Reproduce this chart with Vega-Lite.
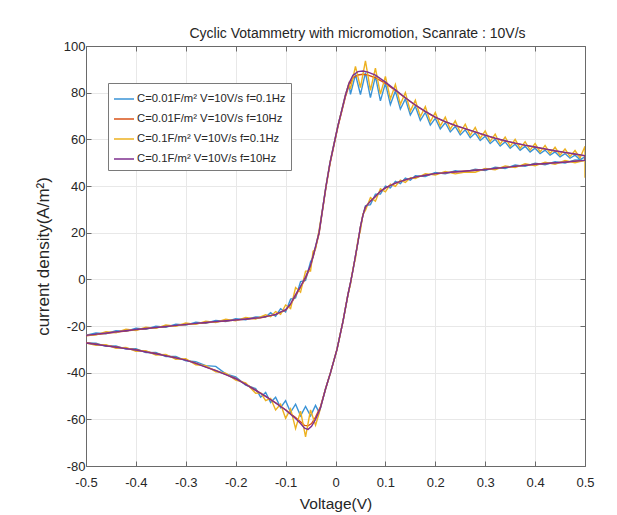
{
"$schema": "https://vega.github.io/schema/vega-lite/v6.json",
"width": 499, "height": 420,
"autosize": "none",
"padding": {"left": 86, "top": 46, "right": 32, "bottom": 49},
"background": "white",
"title": {"text": "Cyclic Votammetry with micromotion, Scanrate : 10V/s", "font": "Liberation Sans", "fontSize": 14, "fontWeight": "normal", "color": "#262626", "offset": -1, "dx": 22, "anchor": "middle"},
"data": {"values": [
{"s":"a","v":-0.5,"i":-24.0},{"s":"a","v":-0.48,"i":-23.0},{"s":"a","v":-0.46,"i":-23.3},{"s":"a","v":-0.44,"i":-22.0},{"s":"a","v":-0.42,"i":-22.3},{"s":"a","v":-0.40,"i":-21.0},{"s":"a","v":-0.38,"i":-21.4},{"s":"a","v":-0.36,"i":-20.1},{"s":"a","v":-0.34,"i":-20.5},{"s":"a","v":-0.32,"i":-19.2},{"s":"a","v":-0.30,"i":-19.6},{"s":"a","v":-0.28,"i":-18.4},{"s":"a","v":-0.26,"i":-18.8},{"s":"a","v":-0.24,"i":-17.6},{"s":"a","v":-0.22,"i":-18.1},{"s":"a","v":-0.20,"i":-16.9},{"s":"a","v":-0.18,"i":-17.3},{"s":"a","v":-0.16,"i":-16.1},{"s":"a","v":-0.14,"i":-16.2},{"s":"a","v":-0.13,"i":-14.3},{"s":"a","v":-0.12,"i":-15.8},{"s":"a","v":-0.11,"i":-12.6},{"s":"a","v":-0.10,"i":-14.0},{"s":"a","v":-0.09,"i":-8.5},{"s":"a","v":-0.08,"i":-8.0},{"s":"a","v":-0.07,"i":-1.0},{"s":"a","v":-0.06,"i":-0.5},{"s":"a","v":-0.05,"i":7.5},{"s":"a","v":-0.045,"i":9.5},{"s":"a","v":-0.04,"i":14},{"s":"a","v":-0.033,"i":20},{"s":"a","v":-0.026,"i":30},{"s":"a","v":-0.019,"i":40},{"s":"a","v":-0.011,"i":50},{"s":"a","v":-0.003,"i":58},{"s":"a","v":0.005,"i":66},{"s":"a","v":0.012,"i":72},{"s":"a","v":0.02,"i":79},{"s":"a","v":0.027,"i":84},
{"s":"a","v":0.03,"i":79.3},{"s":"a","v":0.04,"i":87.8},{"s":"a","v":0.05,"i":79.2},{"s":"a","v":0.06,"i":88.6},{"s":"a","v":0.07,"i":77.9},{"s":"a","v":0.08,"i":87.0},{"s":"a","v":0.09,"i":76.5},{"s":"a","v":0.10,"i":84.0},{"s":"a","v":0.11,"i":74.9},{"s":"a","v":0.12,"i":80.7},{"s":"a","v":0.13,"i":73.0},{"s":"a","v":0.14,"i":77.3},{"s":"a","v":0.15,"i":70.4},{"s":"a","v":0.16,"i":74.2},{"s":"a","v":0.17,"i":68.1},{"s":"a","v":0.18,"i":71.5},{"s":"a","v":0.19,"i":66.1},{"s":"a","v":0.20,"i":69.0},{"s":"a","v":0.21,"i":64.5},{"s":"a","v":0.22,"i":67.1},{"s":"a","v":0.23,"i":63.2},{"s":"a","v":0.24,"i":65.5},{"s":"a","v":0.25,"i":61.9},{"s":"a","v":0.26,"i":64.1},{"s":"a","v":0.27,"i":60.7},{"s":"a","v":0.28,"i":62.7},{"s":"a","v":0.29,"i":59.5},{"s":"a","v":0.30,"i":61.3},{"s":"a","v":0.31,"i":58.2},{"s":"a","v":0.32,"i":60.0},{"s":"a","v":0.33,"i":57.1},{"s":"a","v":0.34,"i":58.9},{"s":"a","v":0.35,"i":56.2},{"s":"a","v":0.36,"i":57.9},{"s":"a","v":0.37,"i":55.3},{"s":"a","v":0.38,"i":57.0},{"s":"a","v":0.39,"i":54.6},{"s":"a","v":0.40,"i":56.2},{"s":"a","v":0.41,"i":53.9},{"s":"a","v":0.42,"i":55.4},{"s":"a","v":0.43,"i":53.2},{"s":"a","v":0.44,"i":54.6},{"s":"a","v":0.45,"i":52.5},{"s":"a","v":0.46,"i":53.9},{"s":"a","v":0.47,"i":51.9},{"s":"a","v":0.48,"i":53.2},{"s":"a","v":0.49,"i":51.3},{"s":"a","v":0.50,"i":52.5},
{"s":"a","v":0.50,"i":51.0},{"s":"a","v":0.48,"i":51.2},{"s":"a","v":0.46,"i":49.8},{"s":"a","v":0.44,"i":50.4},{"s":"a","v":0.42,"i":49.1},{"s":"a","v":0.40,"i":49.8},{"s":"a","v":0.38,"i":48.4},{"s":"a","v":0.36,"i":49.0},{"s":"a","v":0.34,"i":47.5},{"s":"a","v":0.32,"i":48.1},{"s":"a","v":0.30,"i":46.6},{"s":"a","v":0.28,"i":47.2},{"s":"a","v":0.26,"i":45.9},{"s":"a","v":0.24,"i":46.5},{"s":"a","v":0.22,"i":45.2},{"s":"a","v":0.20,"i":45.8},{"s":"a","v":0.18,"i":44.1},{"s":"a","v":0.16,"i":44.4},{"s":"a","v":0.15,"i":42.5},{"s":"a","v":0.14,"i":43.4},{"s":"a","v":0.13,"i":41.0},{"s":"a","v":0.12,"i":42.0},{"s":"a","v":0.11,"i":39.2},{"s":"a","v":0.10,"i":40.0},{"s":"a","v":0.09,"i":36.5},{"s":"a","v":0.08,"i":36.5},{"s":"a","v":0.07,"i":32.0},{"s":"a","v":0.06,"i":31.5},{"s":"a","v":0.055,"i":27.5},{"s":"a","v":0.05,"i":22.5},{"s":"a","v":0.045,"i":16},{"s":"a","v":0.04,"i":10},{"s":"a","v":0.035,"i":4},{"s":"a","v":0.03,"i":-1.5},{"s":"a","v":0.025,"i":-6.5},{"s":"a","v":0.015,"i":-18},{"s":"a","v":0.003,"i":-30},{"s":"a","v":-0.01,"i":-40},{"s":"a","v":-0.02,"i":-47},{"s":"a","v":-0.03,"i":-55},{"s":"a","v":-0.033,"i":-57},{"s":"a","v":-0.04,"i":-54},{"s":"a","v":-0.05,"i":-58.5},{"s":"a","v":-0.06,"i":-54.5},{"s":"a","v":-0.07,"i":-58.5},{"s":"a","v":-0.08,"i":-53.5},{"s":"a","v":-0.09,"i":-57},{"s":"a","v":-0.10,"i":-52},{"s":"a","v":-0.11,"i":-55},{"s":"a","v":-0.12,"i":-50.5},{"s":"a","v":-0.13,"i":-52.8},{"s":"a","v":-0.14,"i":-48.5},{"s":"a","v":-0.15,"i":-50.5},{"s":"a","v":-0.16,"i":-46.8},{"s":"a","v":-0.18,"i":-45.3},{"s":"a","v":-0.20,"i":-41.8},{"s":"a","v":-0.22,"i":-40.5},{"s":"a","v":-0.24,"i":-37.3},{"s":"a","v":-0.26,"i":-37.0},{"s":"a","v":-0.28,"i":-35.3},{"s":"a","v":-0.30,"i":-34.9},{"s":"a","v":-0.32,"i":-33.0},{"s":"a","v":-0.34,"i":-33.1},{"s":"a","v":-0.36,"i":-31.3},{"s":"a","v":-0.38,"i":-31.4},{"s":"a","v":-0.40,"i":-29.7},{"s":"a","v":-0.42,"i":-29.9},{"s":"a","v":-0.44,"i":-28.5},{"s":"a","v":-0.46,"i":-28.7},{"s":"a","v":-0.48,"i":-27.4},{"s":"a","v":-0.50,"i":-27.3},

{"s":"b","v":-0.5,"i":-24.2},{"s":"b","v":-0.45,"i":-22.9},{"s":"b","v":-0.4,"i":-21.6},{"s":"b","v":-0.35,"i":-20.5},{"s":"b","v":-0.3,"i":-19.4},{"s":"b","v":-0.25,"i":-18.4},{"s":"b","v":-0.2,"i":-17.5},{"s":"b","v":-0.15,"i":-16.5},{"s":"b","v":-0.12,"i":-15.1},{"s":"b","v":-0.1,"i":-13.2},{"s":"b","v":-0.09,"i":-10.8},{"s":"b","v":-0.08,"i":-7.0},{"s":"b","v":-0.07,"i":-3.5},{"s":"b","v":-0.06,"i":0.5},{"s":"b","v":-0.05,"i":5.5},{"s":"b","v":-0.045,"i":9.5},{"s":"b","v":-0.04,"i":13.5},{"s":"b","v":-0.033,"i":19.5},{"s":"b","v":-0.026,"i":29.5},{"s":"b","v":-0.019,"i":39.5},{"s":"b","v":-0.011,"i":49.5},{"s":"b","v":-0.003,"i":57.5},{"s":"b","v":0.005,"i":65.5},{"s":"b","v":0.012,"i":71.5},{"s":"b","v":0.02,"i":78.3},{"s":"b","v":0.027,"i":83.0},{"s":"b","v":0.035,"i":86.3},{"s":"b","v":0.045,"i":87.6},{"s":"b","v":0.055,"i":87.9},{"s":"b","v":0.065,"i":87.5},{"s":"b","v":0.08,"i":86.4},{"s":"b","v":0.1,"i":84.0},{"s":"b","v":0.12,"i":81.0},{"s":"b","v":0.14,"i":77.7},{"s":"b","v":0.16,"i":74.6},{"s":"b","v":0.18,"i":71.9},{"s":"b","v":0.2,"i":69.4},{"s":"b","v":0.22,"i":67.5},{"s":"b","v":0.24,"i":65.9},{"s":"b","v":0.26,"i":64.5},{"s":"b","v":0.28,"i":63.1},{"s":"b","v":0.3,"i":61.7},{"s":"b","v":0.32,"i":60.4},{"s":"b","v":0.34,"i":59.3},{"s":"b","v":0.36,"i":58.3},{"s":"b","v":0.38,"i":57.4},{"s":"b","v":0.4,"i":56.6},{"s":"b","v":0.42,"i":55.8},{"s":"b","v":0.44,"i":55.0},{"s":"b","v":0.46,"i":54.3},{"s":"b","v":0.48,"i":53.6},{"s":"b","v":0.5,"i":52.9},
{"s":"b","v":0.5,"i":51.0},{"s":"b","v":0.45,"i":50.1},{"s":"b","v":0.4,"i":49.3},{"s":"b","v":0.35,"i":48.2},{"s":"b","v":0.3,"i":47.1},{"s":"b","v":0.25,"i":46.2},{"s":"b","v":0.2,"i":45.3},{"s":"b","v":0.18,"i":44.6},{"s":"b","v":0.16,"i":43.8},{"s":"b","v":0.14,"i":42.6},{"s":"b","v":0.12,"i":41.2},{"s":"b","v":0.1,"i":39.2},{"s":"b","v":0.09,"i":37.7},{"s":"b","v":0.08,"i":35.5},{"s":"b","v":0.07,"i":33.5},{"s":"b","v":0.06,"i":31},{"s":"b","v":0.055,"i":27.5},{"s":"b","v":0.05,"i":22.5},{"s":"b","v":0.045,"i":16},{"s":"b","v":0.04,"i":10},{"s":"b","v":0.035,"i":4},{"s":"b","v":0.03,"i":-1.5},{"s":"b","v":0.025,"i":-6.5},{"s":"b","v":0.015,"i":-18},{"s":"b","v":0.003,"i":-30},{"s":"b","v":-0.01,"i":-40},{"s":"b","v":-0.02,"i":-47},{"s":"b","v":-0.03,"i":-54.5},{"s":"b","v":-0.04,"i":-59},{"s":"b","v":-0.048,"i":-61.8},{"s":"b","v":-0.055,"i":-62.8},{"s":"b","v":-0.062,"i":-62.6},{"s":"b","v":-0.07,"i":-61.0},{"s":"b","v":-0.08,"i":-59.2},{"s":"b","v":-0.09,"i":-57.6},{"s":"b","v":-0.1,"i":-55.9},{"s":"b","v":-0.11,"i":-54.4},{"s":"b","v":-0.12,"i":-52.9},{"s":"b","v":-0.14,"i":-50.1},{"s":"b","v":-0.16,"i":-47.5},{"s":"b","v":-0.18,"i":-44.9},{"s":"b","v":-0.2,"i":-42.5},{"s":"b","v":-0.22,"i":-40.7},{"s":"b","v":-0.24,"i":-39.0},{"s":"b","v":-0.26,"i":-37.5},{"s":"b","v":-0.28,"i":-35.9},{"s":"b","v":-0.3,"i":-34.5},{"s":"b","v":-0.35,"i":-32.2},{"s":"b","v":-0.4,"i":-30.2},{"s":"b","v":-0.45,"i":-28.7},{"s":"b","v":-0.5,"i":-27.2},

{"s":"c","v":-0.5,"i":-24.0},{"s":"c","v":-0.48,"i":-23.8},{"s":"c","v":-0.46,"i":-22.4},{"s":"c","v":-0.44,"i":-22.9},{"s":"c","v":-0.42,"i":-21.4},{"s":"c","v":-0.40,"i":-21.9},{"s":"c","v":-0.38,"i":-20.5},{"s":"c","v":-0.36,"i":-21.0},{"s":"c","v":-0.34,"i":-19.6},{"s":"c","v":-0.32,"i":-20.1},{"s":"c","v":-0.30,"i":-18.7},{"s":"c","v":-0.28,"i":-19.3},{"s":"c","v":-0.26,"i":-17.9},{"s":"c","v":-0.24,"i":-18.5},{"s":"c","v":-0.22,"i":-17.1},{"s":"c","v":-0.20,"i":-17.8},{"s":"c","v":-0.18,"i":-16.3},{"s":"c","v":-0.16,"i":-17.0},{"s":"c","v":-0.14,"i":-15.2},{"s":"c","v":-0.13,"i":-16.0},{"s":"c","v":-0.12,"i":-13.8},{"s":"c","v":-0.11,"i":-15.0},{"s":"c","v":-0.10,"i":-11.0},{"s":"c","v":-0.09,"i":-12.5},{"s":"c","v":-0.08,"i":-3.5},{"s":"c","v":-0.07,"i":-5.5},{"s":"c","v":-0.06,"i":3.5},{"s":"c","v":-0.05,"i":3.5},{"s":"c","v":-0.045,"i":12},{"s":"c","v":-0.04,"i":13},{"s":"c","v":-0.033,"i":21},{"s":"c","v":-0.026,"i":30},{"s":"c","v":-0.019,"i":40},{"s":"c","v":-0.011,"i":50},{"s":"c","v":-0.003,"i":58},{"s":"c","v":0.005,"i":66},{"s":"c","v":0.012,"i":72},{"s":"c","v":0.02,"i":79},{"s":"c","v":0.027,"i":84},
{"s":"c","v":0.03,"i":81.5},{"s":"c","v":0.04,"i":91.3},{"s":"c","v":0.05,"i":82.2},{"s":"c","v":0.06,"i":93.6},{"s":"c","v":0.07,"i":81.0},{"s":"c","v":0.08,"i":90.5},{"s":"c","v":0.09,"i":79.4},{"s":"c","v":0.10,"i":87.0},{"s":"c","v":0.11,"i":77.3},{"s":"c","v":0.12,"i":83.5},{"s":"c","v":0.13,"i":75.0},{"s":"c","v":0.14,"i":80.0},{"s":"c","v":0.15,"i":72.1},{"s":"c","v":0.16,"i":76.8},{"s":"c","v":0.17,"i":69.7},{"s":"c","v":0.18,"i":74.0},{"s":"c","v":0.19,"i":67.5},{"s":"c","v":0.20,"i":71.5},{"s":"c","v":0.21,"i":65.7},{"s":"c","v":0.22,"i":69.5},{"s":"c","v":0.23,"i":64.3},{"s":"c","v":0.24,"i":67.9},{"s":"c","v":0.25,"i":62.9},{"s":"c","v":0.26,"i":66.5},{"s":"c","v":0.27,"i":61.7},{"s":"c","v":0.28,"i":65.1},{"s":"c","v":0.29,"i":60.4},{"s":"c","v":0.30,"i":63.6},{"s":"c","v":0.31,"i":59.1},{"s":"c","v":0.32,"i":62.2},{"s":"c","v":0.33,"i":57.9},{"s":"c","v":0.34,"i":61.0},{"s":"c","v":0.35,"i":57.0},{"s":"c","v":0.36,"i":60.0},{"s":"c","v":0.37,"i":56.1},{"s":"c","v":0.38,"i":59.0},{"s":"c","v":0.39,"i":55.4},{"s":"c","v":0.40,"i":58.2},{"s":"c","v":0.41,"i":54.6},{"s":"c","v":0.42,"i":57.4},{"s":"c","v":0.43,"i":53.9},{"s":"c","v":0.44,"i":56.6},{"s":"c","v":0.45,"i":53.2},{"s":"c","v":0.46,"i":55.9},{"s":"c","v":0.47,"i":52.6},{"s":"c","v":0.48,"i":55.2},{"s":"c","v":0.49,"i":52.0},{"s":"c","v":0.50,"i":57.0},{"s":"c","v":0.50,"i":43.5},
{"s":"c","v":0.50,"i":51.0},{"s":"c","v":0.48,"i":50.0},{"s":"c","v":0.46,"i":50.9},{"s":"c","v":0.44,"i":49.3},{"s":"c","v":0.42,"i":50.2},{"s":"c","v":0.40,"i":48.7},{"s":"c","v":0.38,"i":49.5},{"s":"c","v":0.36,"i":47.9},{"s":"c","v":0.34,"i":48.6},{"s":"c","v":0.32,"i":47.0},{"s":"c","v":0.30,"i":47.5},{"s":"c","v":0.28,"i":45.9},{"s":"c","v":0.26,"i":46.0},{"s":"c","v":0.24,"i":45.2},{"s":"c","v":0.22,"i":46.2},{"s":"c","v":0.20,"i":44.7},{"s":"c","v":0.18,"i":45.3},{"s":"c","v":0.16,"i":43.2},{"s":"c","v":0.15,"i":43.5},{"s":"c","v":0.14,"i":41.5},{"s":"c","v":0.13,"i":42.5},{"s":"c","v":0.12,"i":39.8},{"s":"c","v":0.11,"i":40.8},{"s":"c","v":0.10,"i":37.5},{"s":"c","v":0.09,"i":38.8},{"s":"c","v":0.08,"i":33.5},{"s":"c","v":0.07,"i":35.0},{"s":"c","v":0.06,"i":29.5},{"s":"c","v":0.055,"i":28},{"s":"c","v":0.05,"i":21},{"s":"c","v":0.045,"i":17},{"s":"c","v":0.04,"i":9},{"s":"c","v":0.035,"i":4.5},{"s":"c","v":0.03,"i":-2},{"s":"c","v":0.025,"i":-6.5},{"s":"c","v":0.015,"i":-18},{"s":"c","v":0.003,"i":-30},{"s":"c","v":-0.01,"i":-40},{"s":"c","v":-0.02,"i":-47},{"s":"c","v":-0.03,"i":-55},{"s":"c","v":-0.033,"i":-57.5},{"s":"c","v":-0.04,"i":-62.5},{"s":"c","v":-0.05,"i":-56},{"s":"c","v":-0.06,"i":-67.5},{"s":"c","v":-0.07,"i":-56.5},{"s":"c","v":-0.08,"i":-64},{"s":"c","v":-0.09,"i":-55.5},{"s":"c","v":-0.10,"i":-59.5},{"s":"c","v":-0.11,"i":-53.5},{"s":"c","v":-0.12,"i":-56},{"s":"c","v":-0.13,"i":-51},{"s":"c","v":-0.14,"i":-52},{"s":"c","v":-0.15,"i":-48.6},{"s":"c","v":-0.16,"i":-48.8},{"s":"c","v":-0.18,"i":-44.4},{"s":"c","v":-0.20,"i":-43.2},{"s":"c","v":-0.22,"i":-40.2},{"s":"c","v":-0.24,"i":-39.6},{"s":"c","v":-0.26,"i":-37.0},{"s":"c","v":-0.28,"i":-36.6},{"s":"c","v":-0.30,"i":-34.0},{"s":"c","v":-0.32,"i":-34.3},{"s":"c","v":-0.34,"i":-32.2},{"s":"c","v":-0.36,"i":-32.4},{"s":"c","v":-0.38,"i":-30.6},{"s":"c","v":-0.40,"i":-30.8},{"s":"c","v":-0.42,"i":-29.2},{"s":"c","v":-0.44,"i":-29.5},{"s":"c","v":-0.46,"i":-28.0},{"s":"c","v":-0.48,"i":-28.3},{"s":"c","v":-0.50,"i":-27.3},

{"s":"d","v":-0.5,"i":-24.0},{"s":"d","v":-0.45,"i":-22.8},{"s":"d","v":-0.4,"i":-21.5},{"s":"d","v":-0.35,"i":-20.4},{"s":"d","v":-0.3,"i":-19.3},{"s":"d","v":-0.25,"i":-18.3},{"s":"d","v":-0.2,"i":-17.4},{"s":"d","v":-0.15,"i":-16.4},{"s":"d","v":-0.12,"i":-15.0},{"s":"d","v":-0.1,"i":-13.0},{"s":"d","v":-0.09,"i":-10.5},{"s":"d","v":-0.08,"i":-6.5},{"s":"d","v":-0.07,"i":-3},{"s":"d","v":-0.06,"i":1},{"s":"d","v":-0.05,"i":6},{"s":"d","v":-0.045,"i":10},{"s":"d","v":-0.04,"i":14},{"s":"d","v":-0.033,"i":20},{"s":"d","v":-0.026,"i":30},{"s":"d","v":-0.019,"i":40},{"s":"d","v":-0.011,"i":50},{"s":"d","v":-0.003,"i":58},{"s":"d","v":0.005,"i":66},{"s":"d","v":0.012,"i":72},{"s":"d","v":0.02,"i":79},{"s":"d","v":0.027,"i":84},{"s":"d","v":0.035,"i":87.5},{"s":"d","v":0.045,"i":89},{"s":"d","v":0.055,"i":89.3},{"s":"d","v":0.065,"i":88.8},{"s":"d","v":0.08,"i":87.5},{"s":"d","v":0.1,"i":84.5},{"s":"d","v":0.12,"i":81.2},{"s":"d","v":0.14,"i":77.8},{"s":"d","v":0.16,"i":74.7},{"s":"d","v":0.18,"i":72},{"s":"d","v":0.2,"i":69.5},{"s":"d","v":0.22,"i":67.6},{"s":"d","v":0.24,"i":66},{"s":"d","v":0.26,"i":64.6},{"s":"d","v":0.28,"i":63.2},{"s":"d","v":0.3,"i":61.8},{"s":"d","v":0.32,"i":60.5},{"s":"d","v":0.34,"i":59.4},{"s":"d","v":0.36,"i":58.4},{"s":"d","v":0.38,"i":57.5},{"s":"d","v":0.4,"i":56.7},{"s":"d","v":0.42,"i":55.9},{"s":"d","v":0.44,"i":55.1},{"s":"d","v":0.46,"i":54.4},{"s":"d","v":0.48,"i":53.7},{"s":"d","v":0.5,"i":53.0},
{"s":"d","v":0.5,"i":51.0},{"s":"d","v":0.45,"i":50.1},{"s":"d","v":0.4,"i":49.3},{"s":"d","v":0.35,"i":48.2},{"s":"d","v":0.3,"i":47.1},{"s":"d","v":0.25,"i":46.2},{"s":"d","v":0.2,"i":45.3},{"s":"d","v":0.18,"i":44.6},{"s":"d","v":0.16,"i":43.8},{"s":"d","v":0.14,"i":42.6},{"s":"d","v":0.12,"i":41.2},{"s":"d","v":0.1,"i":39.2},{"s":"d","v":0.09,"i":37.7},{"s":"d","v":0.08,"i":35.5},{"s":"d","v":0.07,"i":33.5},{"s":"d","v":0.06,"i":31},{"s":"d","v":0.055,"i":27.5},{"s":"d","v":0.05,"i":22.5},{"s":"d","v":0.045,"i":16},{"s":"d","v":0.04,"i":10},{"s":"d","v":0.035,"i":4},{"s":"d","v":0.03,"i":-1.5},{"s":"d","v":0.025,"i":-6.5},{"s":"d","v":0.015,"i":-18},{"s":"d","v":0.003,"i":-30},{"s":"d","v":-0.01,"i":-40},{"s":"d","v":-0.02,"i":-47},{"s":"d","v":-0.03,"i":-55},{"s":"d","v":-0.04,"i":-60},{"s":"d","v":-0.048,"i":-63},{"s":"d","v":-0.055,"i":-64.3},{"s":"d","v":-0.062,"i":-63.8},{"s":"d","v":-0.07,"i":-61.8},{"s":"d","v":-0.08,"i":-59.6},{"s":"d","v":-0.09,"i":-57.8},{"s":"d","v":-0.1,"i":-56},{"s":"d","v":-0.11,"i":-54.5},{"s":"d","v":-0.12,"i":-53},{"s":"d","v":-0.14,"i":-50.2},{"s":"d","v":-0.16,"i":-47.6},{"s":"d","v":-0.18,"i":-45},{"s":"d","v":-0.2,"i":-42.6},{"s":"d","v":-0.22,"i":-40.8},{"s":"d","v":-0.24,"i":-39.1},{"s":"d","v":-0.26,"i":-37.6},{"s":"d","v":-0.28,"i":-36},{"s":"d","v":-0.3,"i":-34.6},{"s":"d","v":-0.35,"i":-32.3},{"s":"d","v":-0.4,"i":-30.3},{"s":"d","v":-0.45,"i":-28.8},{"s":"d","v":-0.5,"i":-27.3}
]},
"layer": [
 {"mark": {"type": "line", "strokeWidth": 1.4, "clip": true},
  "encoding": {
   "x": {"field": "v", "type": "quantitative", "scale": {"domain": [-0.5, 0.5], "nice": false, "zero": false},
     "axis": {"values": [-0.5,-0.4,-0.3,-0.2,-0.1,0,0.1,0.2,0.3,0.4,0.5], "labelExpr": "replace(format(datum.value, '.1~f'), '−', '-')", "title": "Voltage(V)", "labelPadding": 15, "titlePadding": 7, "titleFontSize": 15.5}},
   "y": {"field": "i", "type": "quantitative", "scale": {"domain": [-80, 100], "nice": false, "zero": false},
     "axis": {"values": [-80,-60,-40,-20,0,20,40,60,80,100], "labelExpr": "replace(format(datum.value, 'd'), '−', '-')", "title": "current density(A/m²)", "labelPadding": 6, "titlePadding": 11, "titleFontSize": 17}},
   "color": {"field": "s", "type": "nominal",
     "scale": {"domain": ["a","b","c","d"], "range": ["#3a93d6", "#D95319", "#EDB120", "#7E2F8E"]},
     "legend": {"orient": "none", "legendX": 22, "legendY": 37, "title": null,
       "labelExpr": "datum.label == 'a' ? 'C=0.01F/m² V=10V/s f=0.1Hz' : datum.label == 'b' ? 'C=0.01F/m² V=10V/s f=10Hz' : datum.label == 'c' ? 'C=0.1F/m² V=10V/s f=0.1Hz' : 'C=0.1F/m² V=10V/s f=10Hz'",
       "symbolType": "stroke", "symbolSize": 400, "symbolStrokeWidth": 1.5,
       "labelFont": "Liberation Sans", "labelFontSize": 11.3, "labelColor": "#262626", "labelLimit": 300, "labelOffset": 2,
       "strokeColor": "#7a7a7a", "fillColor": "white", "padding": 5, "rowPadding": 3}},
   "order": {"value": null}
  }},
 {"mark": {"type": "line", "opacity": 0},
  "encoding": {
   "x": {"field": "v", "type": "quantitative", "axis": {"orient": "top", "values": [-0.5,-0.4,-0.3,-0.2,-0.1,0,0.1,0.2,0.3,0.4,0.5], "labels": false, "title": null, "grid": false}},
   "y": {"field": "i", "type": "quantitative", "axis": {"orient": "right", "values": [-80,-60,-40,-20,0,20,40,60,80,100], "labels": false, "title": null, "grid": false}},
   "order": {"value": null}
  }}
],
"resolve": {"axis": {"x": "independent", "y": "independent"}},
"config": {
 "view": {"stroke": null},
 "axis": {"domainColor": "#6a6a6a", "tickColor": "#6a6a6a", "tickSize": -5, "gridColor": "#e8e8e8", "grid": true, "labelFlush": false,
   "labelFont": "Liberation Sans", "labelFontSize": 13, "labelColor": "#262626",
   "titleFont": "Liberation Sans", "titleFontSize": 15, "titleFontWeight": "normal", "titleColor": "#262626"}
}
}
